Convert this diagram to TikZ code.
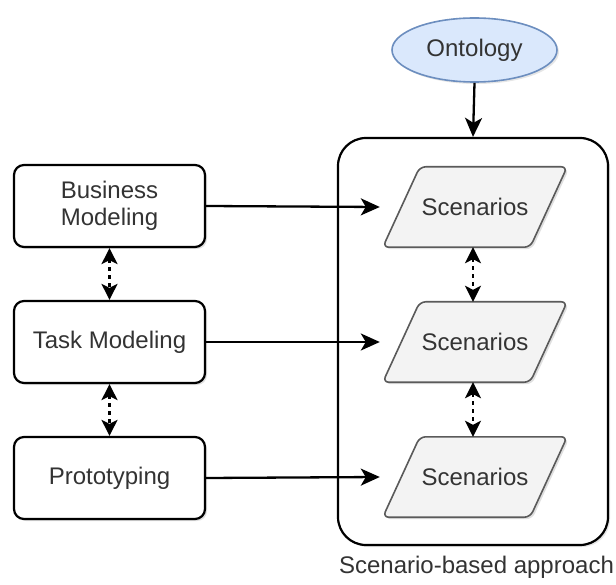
\documentclass[tikz,border=0pt]{standalone}
\usepackage{fontspec}
\setmainfont{Liberation Sans}
\usetikzlibrary{shapes.geometric,arrows.meta,shadows}
\pgfdeclarelayer{bg}
\pgfdeclarelayer{mid}
\pgfsetlayers{bg,mid,main}
\definecolor{txt}{HTML}{333333}
\definecolor{ontofill}{HTML}{DAE8FC}
\definecolor{ontodraw}{HTML}{6C8EBF}
\definecolor{parafill}{HTML}{F3F3F3}
\definecolor{paradraw}{HTML}{5A5A5A}
\tikzset{
  lbl/.style={font=\fontsize{24}{27}\selectfont, text=txt, align=center},
  modelbox/.style={lbl, draw=black, line width=2.2pt, rounded corners=10pt, fill=white,
    minimum width=191pt, minimum height=82pt, inner sep=0pt,
    drop shadow={shadow xshift=2pt, shadow yshift=-2pt, opacity=0.25}},
  ontonode/.style={lbl, ellipse, draw=ontodraw, fill=ontofill, line width=1.6pt,
    minimum width=165pt, minimum height=64pt, inner sep=0pt,
    drop shadow={shadow xshift=2pt, shadow yshift=-2pt, opacity=0.2}},
  grpbox/.style={draw=black, fill=white, line width=2.2pt, rounded corners=28pt,
    minimum width=270pt, minimum height=407pt, inner sep=0pt,
    drop shadow={shadow xshift=2pt, shadow yshift=-2pt, opacity=0.2}},
  paranode/.style={lbl, text=txt, minimum width=184pt, minimum height=80pt, inner sep=0pt},
  parashape/.style={draw=paradraw, fill=parafill, line width=1.6pt, rounded corners=6pt,
    drop shadow={shadow xshift=2pt, shadow yshift=-2pt, opacity=0.25}},
  arr/.style={line width=2.3pt, -{Stealth[length=19pt,width=17pt,inset=5pt]}},
  darr/.style={line width=2.3pt, dash pattern=on 4pt off 4pt,
    {Stealth[length=16pt,width=16pt,inset=4pt]}-{Stealth[length=16pt,width=16pt,inset=4pt]}},
  caption/.style={lbl, anchor=base}
}
\begin{document}
\begin{tikzpicture}[x=1pt,y=-1pt]
\useasboundingbox (0,0) rectangle (616,585);
% group box
\begin{pgfonlayer}{bg}
\node[grpbox] (grp) at (473,341.5) {};
\end{pgfonlayer}
% ontology
\node[ontonode] (onto) at (474.5,50) {Ontology};
% left boxes
\node[modelbox] (bm) at (109.5,206) {Business\\Modeling};
\node[modelbox] (tm) at (109.5,342) {Task Modeling};
\node[modelbox] (pr) at (109.5,478) {Prototyping};
% scenario text nodes
\node[paranode] (s1) at (475,207) {Scenarios};
\node[paranode] (s2) at (475,342) {Scenarios};
\node[paranode] (s3) at (475,477) {Scenarios};
% parallelogram shapes behind text
\begin{pgfonlayer}{mid}
\foreach \n in {s1,s2,s3}{
  \draw[parashape] ([xshift=37pt]\n.north west) -- (\n.north east)
     -- ([xshift=-37pt]\n.south east) -- (\n.south west) -- cycle;
}
\end{pgfonlayer}
% caption
\node[caption] (cap) at (476.5,573) {Scenario-based approach};
% connectors
\draw[arr] (onto.south) -- (grp.north);
\draw[arr] (bm.east) -- ([xshift=-3pt]s1.west);
\draw[arr] (tm.east) -- ([xshift=-3pt]s2.west);
\draw[arr] (pr.east) -- ([xshift=-3pt]s3.west);
\draw[darr] (bm.south) -- (tm.north);
\draw[darr] (tm.south) -- (pr.north);
\draw[darr] ([xshift=-2pt]s1.south) -- ([xshift=-2pt]s2.north);
\draw[darr] ([xshift=-2pt]s2.south) -- ([xshift=-2pt]s3.north);
\end{tikzpicture}
\end{document}
